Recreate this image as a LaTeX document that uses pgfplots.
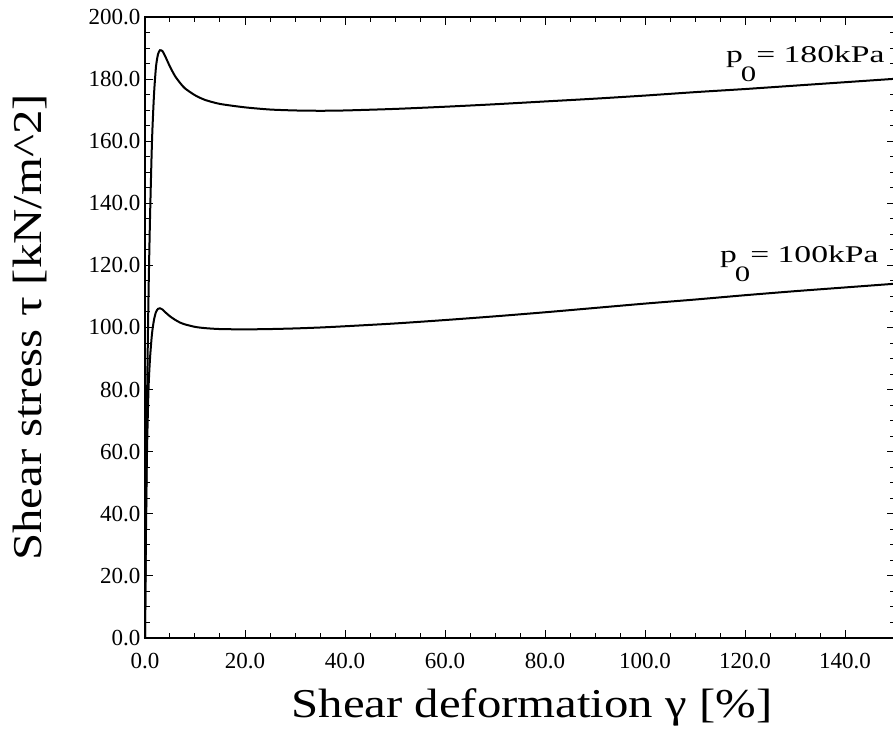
\documentclass[border=0pt]{standalone}
\usepackage{fontspec}
\setmainfont{Liberation Serif}
\newfontfamily\widefont[FakeStretch=1.19]{Liberation Serif}
\newfontfamily\pfont[FakeStretch=1.4]{Liberation Serif}
\usepackage{pgfplots}
\pgfplotsset{compat=1.18}
\begin{document}
\begin{tikzpicture}[x=1pt,y=1pt]
\begin{axis}[
  scale only axis,
  width=750pt, height=621pt,
  at={(0,0)}, anchor=south west,
  xmin=0, xmax=150, ymin=0, ymax=200,
  xtick={0,20,...,140}, ytick={0,20,...,200},
  minor x tick num=3, minor y tick num=3,
  tick align=inside,
  major tick length=8pt, minor tick length=5pt,
  axis line style={line width=1.3pt},
  every tick/.style={line width=1pt, black},
  /pgf/number format/assume math mode=true,
  /pgf/number format/.cd, fixed, fixed zerofill, precision=1,
  /pgfplots/.cd,
  ticklabel style={font=\fontsize{23}{25}\selectfont},
  xticklabel style={yshift=-12pt},
  yticklabel style={xshift=-1pt},
  xlabel={Shear deformation γ [\%]},
  ylabel={Shear stress τ [kN/m\textasciicircum 2]},
  label style={font=\widefont\fontsize{41}{44}\selectfont},
  xlabel style={at={([xshift=12pt,yshift=-79pt]axis description cs:0.5,0)}, anchor=base},
  ylabel style={at={([xshift=-103pt]axis description cs:0,0.5)}, anchor=base, rotate=0},
  clip=false,
]
\addplot[line width=2pt, smooth, tension=0.4] coordinates {
(0,0) (0.2,40) (0.4,75) (0.7,110) (1.0,135) (1.4,160) (1.8,175) (2.2,184) (2.6,188) (3.0,189.3) (3.5,189) (4,187.5) (5,184) (6,181) (7,178.8) (8,177) (10,174.8) (12,173.3) (15,172) (20,170.9) (25,170.2) (30,169.9) (35,169.8) (40,169.9) (50,170.4) (60,171.1) (70,171.9) (80,172.8) (90,173.7) (100,174.7) (110,175.8) (120,176.8) (130,177.9) (140,179) (150,180.1)
};
\addplot[line width=2pt, smooth, tension=0.4] coordinates {
(0,0) (0.2,35) (0.4,60) (0.7,80) (1.0,90) (1.4,98) (1.8,102.5) (2.2,105) (2.6,106) (3.0,106.2) (3.5,105.8) (4,105) (5,103.6) (6,102.5) (7,101.6) (8,101) (10,100.2) (12,99.8) (15,99.5) (20,99.4) (25,99.5) (30,99.7) (35,100) (40,100.4) (50,101.3) (60,102.4) (70,103.6) (80,104.9) (90,106.3) (100,107.7) (110,109) (120,110.4) (130,111.7) (140,112.9) (150,114.1)
};
\node[anchor=base east, font=\pfont\fontsize{24}{26}\selectfont] at (axis cs:148.6,185.5) {p\kern-2pt\raisebox{-19pt}{\fontsize{22}{24}\selectfont 0}= 180kPa};
\node[anchor=base east, font=\pfont\fontsize{24}{26}\selectfont] at (axis cs:147.4,120.8) {p\kern-2pt\raisebox{-19pt}{\fontsize{22}{24}\selectfont 0}= 100kPa};
\end{axis}
\pgfresetboundingbox
\useasboundingbox (-145,-91) rectangle (748,638);
\end{tikzpicture}
\end{document}
